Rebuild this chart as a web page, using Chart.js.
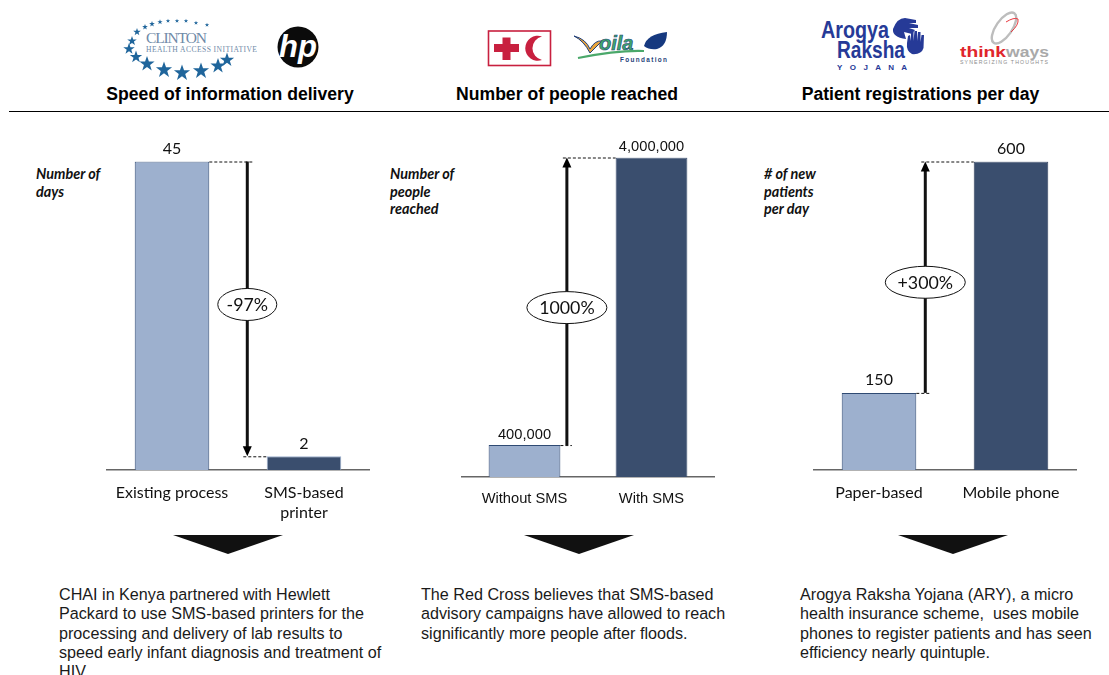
<!DOCTYPE html>
<html lang="en">
<head>
<meta charset="UTF-8">
<title>SMS impact charts</title>
<script src="https://cdn.jsdelivr.net/npm/chart.js"></script>
<style>
  html, body { margin: 0; padding: 0; background: #fff; }
  body { width: 1109px; height: 675px; overflow: hidden; position: relative; font-family: "Liberation Sans", Arial, sans-serif; color: #111; }
  canvas { position: absolute; }
  #logos { position: absolute; left: 0; top: 0; }
  .title { position: absolute; top: 84px; font-size: 17.6px; font-weight: bold; line-height: 20px; white-space: nowrap; transform: translateX(-50%); color: #000; }
  #rule { position: absolute; left: 9px; top: 111px; width: 1100px; height: 1px; background: #000; }
  .unit { position: absolute; top: 165px; font: italic bold 14.4px/17.6px Lato, sans-serif; white-space: nowrap; }
  .note { position: absolute; top: 585px; font-size: 16.15px; line-height: 19.3px; white-space: nowrap; color: #1a1a1a; }
  .pointer { position: absolute; top: 535px; width: 110px; height: 19px; background: #111; clip-path: polygon(0 0, 100% 0, 50% 100%); }
</style>
</head>
<body>
<svg id="logos" width="1109" height="84">
  <defs><polygon id="star" points="0,-1 .24,-.31 .95,-.31 .38,.12 .59,.81 0,.38 -.59,.81 -.38,.12 -.95,-.31 -.24,-.31"/></defs>
  <g fill="#1f659b">
    <use href="#star" transform="translate(207,25) scale(2.3)"/><use href="#star" transform="translate(196,23) scale(2.3)"/>
    <use href="#star" transform="translate(186,21) scale(2.3)"/><use href="#star" transform="translate(177,21) scale(2.3)"/>
    <use href="#star" transform="translate(168,21) scale(2.3)"/><use href="#star" transform="translate(160,22) scale(2.8)"/>
    <use href="#star" transform="translate(152,24) scale(3)"/><use href="#star" transform="translate(145,27) scale(3)"/>
    <use href="#star" transform="translate(137,32) scale(4)"/><use href="#star" transform="translate(132,41) scale(5)"/>
    <use href="#star" transform="translate(129,49) scale(6)"/><use href="#star" transform="translate(136,57) scale(6.5)"/>
    <use href="#star" transform="translate(147,64) scale(8)"/><use href="#star" transform="translate(164,70) scale(8.5)"/>
    <use href="#star" transform="translate(182,73) scale(8.5)"/><use href="#star" transform="translate(201,71) scale(8.5)"/>
    <use href="#star" transform="translate(218,66) scale(8)"/><use href="#star" transform="translate(227,60) scale(7.5)"/>
  </g>
  <text x="146" y="43" font-family="Liberation Serif" font-size="15.5" fill="#6f8aa8" textLength="61">CLINTON</text>
  <text x="146" y="52" font-family="Liberation Serif" font-size="7.6" fill="#6f8aa8" textLength="111">HEALTH ACCESS INITIATIVE</text>
  <circle cx="298" cy="47" r="20.5" fill="#0b0b0b"/>
  <text x="298" y="57" text-anchor="middle" font-family="Liberation Sans" font-weight="bold" font-style="italic" font-size="31" fill="#fff">hp</text>

  <rect x="488.5" y="31" width="62" height="34.5" fill="#fff" stroke="#c8203f" stroke-width="1.6"/>
  <path d="M494 44h8.500v-6.500h8v6.500h8.500v8h-8.500v8h-8v-8h-8.500z" fill="#c8203f"/>
  <path d="M542 36.500A12.500 12.500 0 1 0 542 60A12 12 0 0 1 542 36.500z" fill="#c8203f"/>
  <path d="M574 36q12 3 16 13q5-9 12-8l-12 12q-6-12-16-17z" fill="#e9a43a" stroke="#1f3f7a" stroke-width="1"/>
  <text x="599" y="50" font-family="Liberation Sans" font-weight="bold" font-style="italic" font-size="20" fill="#3fa76a" stroke="#1f3f7a" stroke-width=".6">oila</text>
  <path d="M578 58q40-8 66-7" fill="none" stroke="#4aa86a" stroke-width="2.200"/>
  <path d="M644 46q3-12 23-14q0 14-10 17q-8 1-13-3z" fill="#16397f"/>
  <text x="620" y="62" font-family="Liberation Sans" font-weight="bold" font-size="6.400" fill="#1f3f7a" textLength="47">Foundation</text>

  <text x="821" y="38" font-family="Liberation Sans" font-weight="bold" font-size="24" fill="#263a97" textLength="68" lengthAdjust="spacingAndGlyphs">Arogya</text>
  <text x="837" y="58" font-family="Liberation Sans" font-weight="bold" font-size="24" fill="#263a97" textLength="68" lengthAdjust="spacingAndGlyphs">Raksha</text>
  <text x="837" y="70" font-family="Liberation Sans" font-weight="bold" font-size="8" fill="#263a97" textLength="70">Y O J A N A</text>
  <path d="M893 29q4-11 12-11l11 2v3l-7 0l9 2v3l-9 0l6 2l-3 4l-8-2l2 7q-14-2-13-10z" fill="#263a97"/>
  <path d="M912 54q-6-3-5-11l1-7l2-1l1 6v-9h2.500v9l1-10h2.500v10l1-9h2.500v10l1-7h2.500l-.5 13q-2 7-12 6z" fill="#263a97"/>

  <g fill="none">
    <ellipse cx="1004" cy="28" rx="8" ry="18" transform="rotate(35 1004 28)" stroke="#bdbdbd" stroke-width="2.400"/>
    <path d="M1006 22q8-5 12-3q1 6-7 13" stroke="#e8383f" stroke-width="1"/>
  </g>
  <text x="960" y="57" font-family="Liberation Sans" font-weight="bold" font-size="15" fill="#e0262c" textLength="46" lengthAdjust="spacingAndGlyphs">think</text>
  <text x="1006" y="57" font-family="Liberation Sans" font-weight="bold" font-size="15" fill="#a9a9a9" textLength="43" lengthAdjust="spacingAndGlyphs">ways</text>
  <text x="960" y="64" font-family="Liberation Sans" font-size="5.200" fill="#8c8c8c" textLength="88">SYNERGIZING THOUGHTS</text>
</svg>

<div class="title" style="left:230px">Speed of information delivery</div>
<div class="title" style="left:567px">Number of people reached</div>
<div class="title" style="left:920.5px">Patient registrations per day</div>
<div id="rule"></div>

<div class="unit" style="left:36px">Number of<br>days</div>
<div class="unit" style="left:390px">Number of<br>people<br>reached</div>
<div class="unit" style="left:764px"># of new<br>patients<br>per day</div>

<canvas id="daysChart" width="264" height="410" style="left:106px;top:130px"></canvas>
<canvas id="peopleChart" width="254" height="417" style="left:461px;top:130px"></canvas>
<canvas id="patientsChart" width="264" height="410" style="left:813px;top:130px"></canvas>

<div class="pointer" style="left:173px"></div>
<div class="pointer" style="left:524px"></div>
<div class="pointer" style="left:898px"></div>

<div class="note" style="left:59px">CHAI in Kenya partnered with Hewlett<br>Packard to use SMS-based printers for the<br>processing and delivery of lab results to<br>speed early infant diagnosis and treatment of<br>HIV.</div>
<div class="note" style="left:421px">The Red Cross believes that SMS-based<br>advisory campaigns have allowed to reach<br>significantly more people after floods.</div>
<div class="note" style="left:800px">Arogya Raksha Yojana (ARY), a micro<br>health insurance scheme,&nbsp; uses mobile<br>phones to register patients and has seen<br>efficiency nearly quintuple.</div>

<script>
const daysCategories = ['Existing process', ['SMS-based', 'printer']];
const daysValues = [45, 2];
const daysChange = '-97%';

const peopleCategories = ['Without SMS', 'With SMS'];
const peopleValues = [400000, 4000000];
const peopleChange = '1000%';

const patientsCategories = ['Paper-based', 'Mobile phone'];
const patientsValues = [150, 600];
const patientsChange = '+300%';

const CALIBRI = 'Lato, sans-serif';
const ARIAL = '"Liberation Sans", Arial, sans-serif';

// arrow between the two bars, with the percent bubble on it
const changeArrow = {
  id: 'changeArrow',
  afterDatasetsDraw(chart, args, opts) {
    const ctx = chart.ctx;
    const bars = chart.getDatasetMeta(0).data;
    const values = chart.data.datasets[0].data;
    const y = chart.scales.y;
    const left = bars[0], right = bars[1];
    const from = y.getPixelForValue(values[0]);
    const to = y.getPixelForValue(values[1]);
    const x = left.x + left.width / 2 + opts.gap;
    const dir = to > from ? 1 : -1;

    // value labels
    ctx.save();
    ctx.fillStyle = '#111';
    ctx.textAlign = 'center';
    ctx.textBaseline = 'alphabetic';
    ctx.font = opts.valueFont;
    bars.forEach((b, i) => ctx.fillText(values[i].toLocaleString('en-US'), b.x, b.y - opts.labelGap));

    // dashed leaders
    ctx.strokeStyle = '#111';
    ctx.lineWidth = 1;
    ctx.setLineDash([3, 2]);
    ctx.beginPath();
    ctx.moveTo(left.x + left.width / 2, from + 0.5);
    ctx.lineTo(x + 5, from + 0.5);
    ctx.moveTo(x - 4, to + 0.5);
    ctx.lineTo(right.x - right.width / 2, to + 0.5);
    ctx.stroke();
    ctx.setLineDash([]);

    // shaft and head
    ctx.lineWidth = 3;
    ctx.beginPath();
    ctx.moveTo(x, from);
    ctx.lineTo(x, to - dir * 8);
    ctx.stroke();
    ctx.fillStyle = '#000';
    ctx.beginPath();
    ctx.moveTo(x, to);
    ctx.lineTo(x - 4.5, to - dir * 10);
    ctx.lineTo(x + 4.5, to - dir * 10);
    ctx.closePath();
    ctx.fill();

    // bubble
    const by = from + (to - from) * opts.along;
    ctx.fillStyle = '#fff';
    ctx.lineWidth = 1;
    ctx.beginPath();
    ctx.ellipse(x, by, opts.rx, 16, 0, 0, Math.PI * 2);
    ctx.fill();
    ctx.stroke();
    ctx.fillStyle = '#111';
    ctx.font = '17.8px ' + CALIBRI;
    ctx.textBaseline = 'middle';
    ctx.fillText(opts.text, x, by + 0.5);
    ctx.restore();
  }
};

function drawPanel(id, categories, values, change, o) {
  new Chart(document.getElementById(id), {
    type: 'bar',
    data: {
      labels: categories,
      datasets: [{
        data: values,
        backgroundColor: ['#9db0ce', '#3a4e6e'],
        borderColor: ['#2f4a73', o.darkEdge],
        borderWidth: 1,
        barPercentage: 0.565,
        categoryPercentage: 1
      }]
    },
    options: {
      responsive: false,
      animation: false,
      layout: { padding: { top: o.top } },
      plugins: {
        legend: { display: false },
        tooltip: { enabled: false },
        changeArrow: { gap: o.gap, rx: o.rx, text: change, valueFont: o.valueFont, labelGap: o.labelGap, along: o.along }
      },
      scales: {
        x: {
          // fixed axis height, and no side padding so the plot fills the canvas width
          afterFit(scale) {
            scale.height = 70;
            scale.paddingLeft = 0;
            scale.paddingRight = 0;
          },
          grid: { display: false, drawTicks: false },
          border: { color: '#666', width: 1.5 },
          ticks: { color: '#111', padding: o.tickPad, maxRotation: 0, autoSkip: false, font: { family: o.tickFamily, size: o.tickSize, lineHeight: o.tickLine } }
        },
        y: { display: false, min: 0, max: values.reduce((a, b) => Math.max(a, b)) }
      }
    },
    plugins: [changeArrow]
  });
}

drawPanel('daysChart', daysCategories, daysValues, daysChange, {
  top: 31.5, gap: 38, rx: 29.5, darkEdge: '#9db0ce', tickFamily: CALIBRI, tickSize: 16, tickLine: 1.3, tickPad: 12, valueFont: '16px ' + CALIBRI, labelGap: 7.5, along: 0.485
});
drawPanel('peopleChart', peopleCategories, peopleValues, peopleChange, {
  top: 27.5, gap: 6.5, rx: 40, darkEdge: '#3a4e6e', tickFamily: ARIAL, tickSize: 14.7, tickLine: 1.3, tickPad: 12, valueFont: '14.7px ' + ARIAL, labelGap: 6.5, along: 0.478
});
drawPanel('patientsChart', patientsCategories, patientsValues, patientsChange, {
  top: 31.5, gap: 9, rx: 40, darkEdge: '#2f3f5c', tickFamily: CALIBRI, tickSize: 16, tickLine: 1.3, tickPad: 12, valueFont: '16px ' + CALIBRI, labelGap: 7.5, along: 0.478
});
</script>
</body>
</html>
